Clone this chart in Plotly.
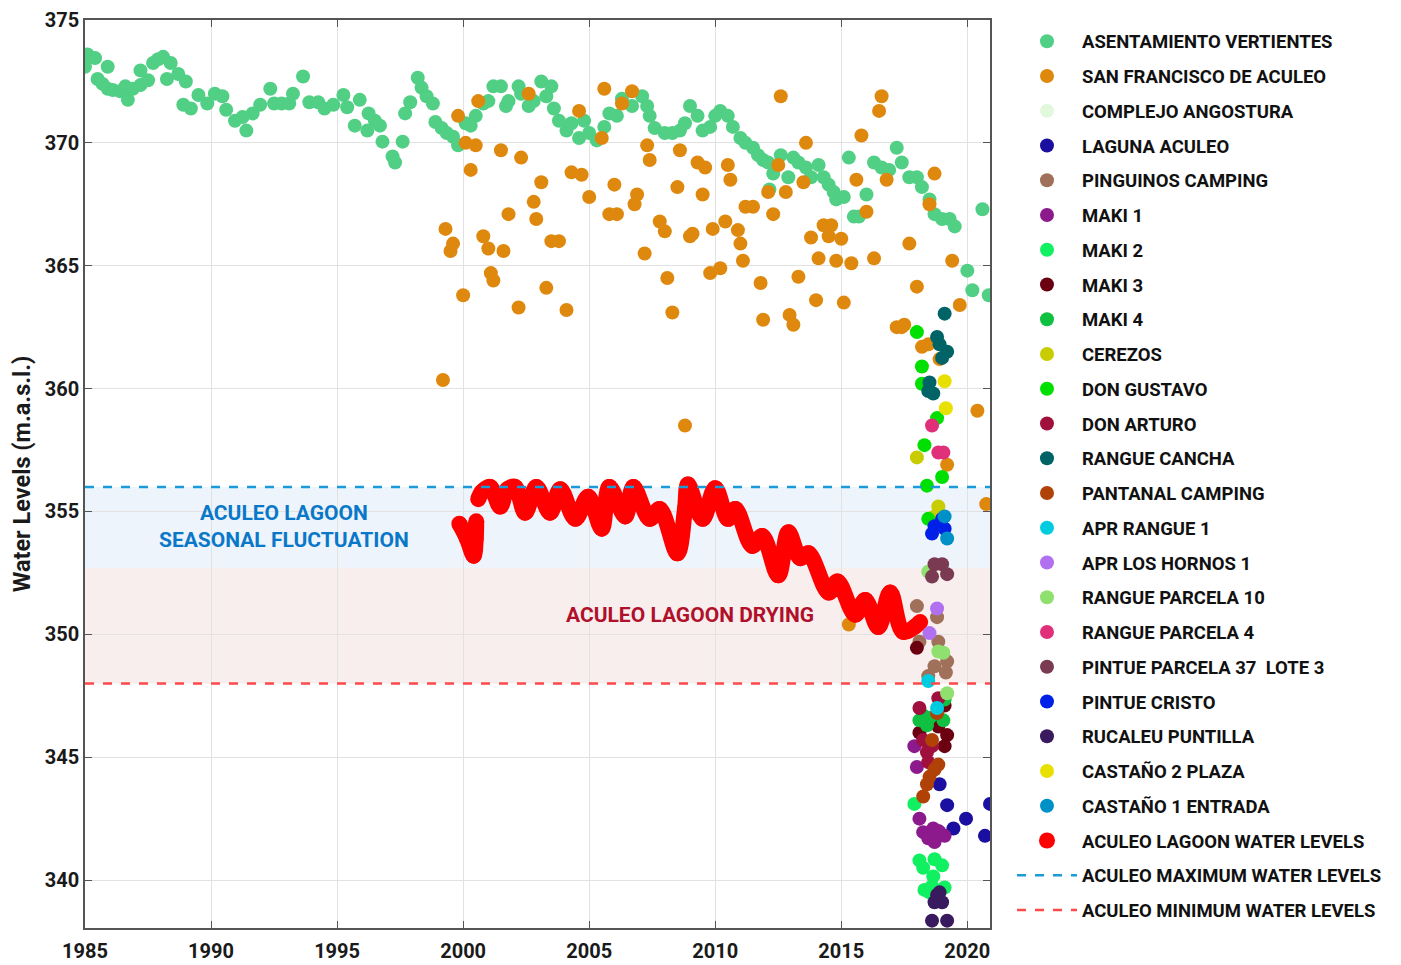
import plotly.graph_objects as go

FONT = "Roboto, Liberation Sans, sans-serif"

# ---------------- data ----------------
av_year = [1985.0, 1985.1, 1985.4, 1985.9, 1985.5, 1985.7, 1985.9, 1986.1, 1986.4, 1986.6, 1986.7, 1986.9,
           1987.2, 1987.2, 1987.5, 1987.7, 1987.9, 1988.1, 1988.4, 1988.25, 1988.7, 1989.0, 1988.9, 1989.2,
           1989.5, 1989.85, 1990.15, 1990.45, 1990.6, 1990.95, 1991.25, 1991.4, 1991.65, 1991.95, 1992.35,
           1992.5, 1992.8, 1993.1, 1993.25, 1993.65, 1993.9, 1994.25, 1994.5, 1994.85, 1995.25, 1995.4,
           1995.7, 1995.9, 1996.2, 1996.25, 1996.5, 1996.7, 1996.8, 1997.2, 1997.3, 1997.6, 1997.7, 1997.9,
           1998.2, 1998.35, 1998.55, 1998.8, 1998.9, 1999.15, 1999.35, 1999.6, 1999.8,
           2000.1, 2000.3, 2000.5, 2000.8, 2001.0, 2001.2, 2001.5, 2001.7, 2001.8, 2002.2, 2002.3, 2002.6,
           2002.8, 2003.1, 2003.3, 2003.5, 2003.6, 2003.8, 2004.1, 2004.3, 2004.6, 2004.8, 2005.0, 2005.3,
           2005.6, 2005.8, 2006.1, 2006.3, 2006.7, 2007.1, 2007.3, 2007.4, 2007.6, 2008.0, 2008.3, 2008.6,
           2008.8, 2009.0, 2009.3, 2009.5, 2009.8, 2010.0, 2010.2, 2010.5, 2010.7, 2011.0, 2011.2, 2011.5,
           2011.7, 2011.9, 2012.1, 2012.3, 2012.15, 2012.6, 2012.9, 2013.1, 2013.3, 2013.6, 2013.8, 2014.1,
           2014.3, 2014.5, 2014.7, 2014.8, 2015.1, 2015.3, 2015.5, 2015.7, 2016.0, 2016.3, 2016.6, 2016.9,
           2017.2, 2017.4, 2017.7, 2018.0, 2018.2, 2018.5, 2018.7, 2019.0, 2019.3, 2019.5, 2020.0, 2020.2,
           2020.6, 2020.85]
av_level = [373.1, 373.6, 373.45, 373.1, 372.6, 372.4, 372.2, 372.15, 372.1, 372.3, 371.75, 372.2,
            372.95, 372.35, 372.55, 373.25, 373.4, 373.5, 373.25, 372.6, 372.8, 372.5, 371.55, 371.4,
            371.95, 371.6, 372.0, 371.9, 371.35, 370.9, 371.05, 370.5, 371.2, 371.55, 372.2,
            371.6, 371.6, 371.6, 372.0, 372.7, 371.65, 371.65, 371.4, 371.55, 371.95, 371.45,
            370.7, 371.75, 370.5, 371.2, 370.9, 370.7, 370.05, 369.45, 369.2, 370.05, 371.2, 371.65,
            372.65, 372.25, 371.9, 371.6, 370.85, 370.6, 370.4, 370.25, 369.9,
            370.8, 370.7, 371.1, 371.6, 371.7, 372.3, 372.3, 371.5, 371.7, 372.3, 372.0, 371.5,
            371.7, 372.5, 371.9, 372.3, 371.4, 370.9, 370.5, 370.8, 370.2, 370.9, 370.4, 370.1,
            370.65, 371.2, 371.1, 371.8, 371.5, 371.9, 371.5, 371.1, 370.6, 370.4, 370.4, 370.5,
            370.8, 371.5, 371.1, 370.5, 370.65, 371.1, 371.3, 371.1, 370.65, 370.2, 370.0, 369.8,
            369.5, 369.3, 369.2, 368.75, 368.1, 369.5, 368.6, 369.4, 369.2, 369.0, 368.6, 369.1,
            368.6, 368.3, 368.0, 367.7, 367.8, 369.4, 367.0, 367.0, 367.9, 369.2, 369.0, 368.9,
            369.8, 369.2, 368.6, 368.6, 368.2, 367.7, 367.1, 366.9, 366.9, 366.6, 364.8, 364.0,
            367.3, 363.8]

sf_year = [1999.8, 2000.6, 2000.1, 2000.5, 2000.3, 2001.5, 2002.3, 2002.6, 2004.6, 2005.5, 2005.6, 2006.3,
           2006.7, 2007.3, 2007.4, 2008.6, 2009.3, 2009.6, 2010.5, 2010.6, 2012.6, 2012.5, 2013.6, 2013.5,
           2015.8, 2015.6, 2016.6, 2016.5, 2016.8, 2018.7, 2018.5, 2016.0, 2012.1, 2012.8, 2012.3, 2011.2,
           2011.5, 1999.3, 1999.6, 1999.5, 2000.0, 2000.8, 2001.0, 2001.6, 2001.8, 2001.1, 2001.2, 2002.2,
           2002.8, 2002.9, 2003.1, 2003.3, 2003.5, 2003.8, 2004.1, 2004.3, 2004.7, 2005.0, 2005.8, 2006.1,
           2006.0, 2006.8, 2006.9, 2007.2, 2007.8, 2008.0, 2008.1, 2008.3, 2008.5, 2009.0, 2009.1, 2009.5,
           2009.8, 2010.2, 2009.9, 2010.4, 2010.9, 2011.0, 2011.1, 2011.8, 2013.3, 2013.8, 2014.0, 2014.1,
           2014.3, 2014.5, 2014.6, 2014.8, 2015.0, 2015.1, 2015.4, 2016.3, 2017.7, 2018.0, 2019.4, 2019.7,
           2011.9, 2012.95, 2013.1, 2017.2, 2017.4, 2017.5, 2018.2, 2018.45, 2018.9, 2020.4, 2020.75,
           1999.2, 2008.8, 2019.2, 2015.3]
sf_level = [371.1, 371.7, 370.0, 369.9, 368.9, 369.7, 369.4, 372.0, 371.3, 370.2, 372.2, 371.6,
            372.1, 369.9, 369.3, 369.7, 369.2, 369.0, 369.1, 368.5, 371.9, 369.1, 370.0, 368.4,
            370.3, 368.5, 371.9, 371.3, 368.5, 368.75, 367.5, 367.2, 368.0, 368.0, 367.1, 367.4,
            367.4, 366.5, 365.9, 365.6, 363.8, 366.2, 365.7, 365.6, 367.1, 364.7, 364.4, 363.3,
            367.6, 366.9, 368.4, 364.1, 366.0, 366.0, 363.2, 368.8, 368.7, 367.8, 367.1, 367.1,
            368.3, 367.5, 367.9, 365.5, 366.8, 366.4, 364.5, 363.1, 368.2, 366.2, 366.3, 367.9,
            364.7, 364.9, 366.5, 366.8, 366.45, 365.9, 365.2, 364.3, 364.55, 366.15, 363.6, 365.3,
            366.65, 366.2, 366.65, 365.2, 366.1, 363.5, 365.1, 365.3, 365.9, 364.15, 365.2, 363.4,
            362.8, 363.0, 362.6, 362.5, 362.5, 362.6, 361.7, 361.8, 361.2, 359.1, 355.3,
            360.35, 358.5, 356.9, 350.4]

lagoon_year = [1999.85, 2000.15, 2000.42, 2000.5, 2000.52, None,
               2000.6, 2000.75, 2001.07, 2001.47, 2001.75, 2002.06, 2002.46, 2002.9, 2003.45, 2003.85,
               2004.45, 2004.96, 2005.5, 2005.8, 2006.43, 2006.75, 2007.4, 2007.8, 2008.5, 2008.8,
               2008.92, 2009.5, 2010.0, 2010.5, 2010.8, 2011.47, 2011.87, 2012.5, 2012.9, 2013.37,
               2013.7, 2014.5, 2014.85, 2015.55, 2015.95, 2016.47, 2016.94, 2017.46, 2018.13]
lagoon_level = [354.5, 353.9, 353.2, 353.9, 354.6, None,
                355.5, 355.8, 356.0, 355.2, 355.9, 356.0, 354.95, 356.0, 354.95, 355.9,
                354.7, 355.6, 354.3, 356.0, 354.8, 356.0, 354.7, 355.1, 353.3, 355.1,
                356.1, 354.7, 355.95, 354.7, 355.1, 353.6, 354.0, 352.4, 354.15, 353.1,
                353.3, 351.7, 352.15, 350.8, 351.4, 350.3, 351.7, 350.1, 350.5]

max_level = 356.0
min_level = 348.0
fluct_low = 352.7
x_span = [1985.0, 2020.9]

# monitoring wells (year, level)
wells = {
    "COMPLEJO ANGOSTURA": ([2018.4, 2018.6], [346.4, 345.6]),
    "LAGUNA ACULEO": ([2018.9, 2019.2, 2019.45, 2019.95, 2020.7, 2020.9],
                      [343.9, 343.05, 342.1, 342.5, 341.8, 343.1]),
    "PINGUINOS CAMPING": ([2018.0, 2018.8, 2018.1, 2018.85, 2019.2, 2018.7, 2018.45, 2019.15],
                          [351.15, 350.7, 349.7, 349.7, 348.9, 348.7, 348.3, 348.45]),
    "MAKI 1": ([2017.9, 2018.0, 2018.1, 2018.25, 2018.45, 2018.7, 2018.9, 2019.1, 2018.65, 2018.85],
               [345.45, 344.6, 342.5, 341.95, 341.7, 341.55, 341.95, 341.8, 342.1, 342.0]),
    "MAKI 2": ([2017.9, 2018.1, 2018.25, 2018.7, 2019.0, 2018.65, 2018.3, 2019.1, 2018.5, 2018.6],
               [343.1, 340.8, 340.5, 340.85, 340.6, 340.15, 339.6, 339.7, 339.5, 339.75]),
    "MAKI 3": ([2018.0, 2019.2, 2019.1, 2018.1, 2018.85, 2019.1],
               [349.45, 345.9, 345.45, 346.0, 346.25, 347.1]),
    "MAKI 4": ([2018.1, 2018.4, 2018.5, 2019.05, 2018.25, 2019.1],
               [346.5, 346.3, 346.6, 346.5, 346.7, 347.35]),
    "CEREZOS": ([2018.0, 2018.85, 2018.7], [357.2, 355.2, 354.8]),
    "DON GUSTAVO": ([2018.0, 2018.2, 2018.2, 2018.8, 2018.3, 2019.0, 2018.4, 2018.45],
                    [362.3, 360.9, 360.2, 358.8, 357.7, 356.4, 356.05, 354.7]),
    "DON ARTURO": ([2018.1, 2018.85, 2018.25, 2018.4, 2018.45, 2018.6],
                   [347.0, 347.4, 345.7, 345.2, 344.8, 345.45]),
    "RANGUE CANCHA": ([2019.1, 2018.8, 2018.9, 2019.2, 2019.0, 2018.5, 2018.45, 2018.65],
                      [363.05, 362.1, 361.8, 361.5, 361.25, 360.25, 359.9, 359.8]),
    "PANTANAL CAMPING": ([2018.6, 2018.85, 2018.7, 2018.5, 2018.4, 2018.25, 2018.8],
                         [345.7, 344.7, 344.5, 344.2, 343.9, 343.4, 346.8]),
    "APR RANGUE 1": ([2018.45, 2018.8], [348.1, 347.0]),
    "APR LOS HORNOS 1": ([2018.8, 2018.5], [351.05, 350.05]),
    "RANGUE PARCELA 10": ([2018.45, 2018.85, 2019.05, 2019.2], [352.55, 349.3, 349.25, 347.6]),
    "RANGUE PARCELA 4": ([2018.6, 2018.85, 2019.05], [358.5, 357.4, 357.4]),
    "PINTUE PARCELA 37  LOTE 3": ([2018.7, 2019.0, 2018.6, 2019.2], [352.85, 352.85, 352.35, 352.45]),
    "PINTUE CRISTO": ([2019.0, 2018.7, 2018.6, 2019.1], [354.7, 354.4, 354.1, 354.3]),
    "RUCALEU PUNTILLA": ([2018.8, 2019.0, 2018.7, 2018.6, 2019.2, 2018.9],
                         [339.4, 339.1, 339.1, 338.35, 338.35, 339.5]),
    "CASTAÑO 2 PLAZA": ([2019.1, 2019.15], [360.3, 359.2]),
    "CASTAÑO 1 ENTRADA": ([2019.1, 2019.2], [354.8, 353.9]),
}

legend_order = ["ASENTAMIENTO VERTIENTES", "SAN FRANCISCO DE ACULEO", "COMPLEJO ANGOSTURA", "LAGUNA ACULEO",
                "PINGUINOS CAMPING", "MAKI 1", "MAKI 2", "MAKI 3", "MAKI 4", "CEREZOS", "DON GUSTAVO",
                "DON ARTURO", "RANGUE CANCHA", "PANTANAL CAMPING", "APR RANGUE 1", "APR LOS HORNOS 1",
                "RANGUE PARCELA 10", "RANGUE PARCELA 4", "PINTUE PARCELA 37  LOTE 3", "PINTUE CRISTO",
                "RUCALEU PUNTILLA", "CASTAÑO 2 PLAZA", "CASTAÑO 1 ENTRADA", "ACULEO LAGOON WATER LEVELS",
                "ACULEO MAXIMUM WATER LEVELS", "ACULEO MINIMUM WATER LEVELS"]

colors = {
    "ASENTAMIENTO VERTIENTES": "#50cf85", "SAN FRANCISCO DE ACULEO": "#df880e",
    "COMPLEJO ANGOSTURA": "#e2f8dc", "LAGUNA ACULEO": "#1a0fa0", "PINGUINOS CAMPING": "#a0705a",
    "MAKI 1": "#8c1a8c", "MAKI 2": "#10f060", "MAKI 3": "#6a0010", "MAKI 4": "#10c040",
    "CEREZOS": "#c8cc00", "DON GUSTAVO": "#00e000", "DON ARTURO": "#a0103c", "RANGUE CANCHA": "#006466",
    "PANTANAL CAMPING": "#b04208", "APR RANGUE 1": "#00cce0", "APR LOS HORNOS 1": "#b070f0",
    "RANGUE PARCELA 10": "#90e070", "RANGUE PARCELA 4": "#e0307a", "PINTUE PARCELA 37  LOTE 3": "#7a3a52",
    "PINTUE CRISTO": "#0020e8", "RUCALEU PUNTILLA": "#3a1a5e", "CASTAÑO 2 PLAZA": "#e8e000",
    "CASTAÑO 1 ENTRADA": "#0090c8", "ACULEO LAGOON WATER LEVELS": "#ff0000",
    "ACULEO MAXIMUM WATER LEVELS": "#1a9ad8", "ACULEO MINIMUM WATER LEVELS": "#ff4848",
}

MS = 14
rank = {n: (i + 1) * 10 for i, n in enumerate(legend_order)}

fig = go.Figure()

def add_points(name, xs, ys, size=MS):
    fig.add_trace(go.Scatter(x=xs, y=ys, mode="markers", name=name, legendgroup=name,
                             legendrank=rank[name],
                             marker=dict(size=size, color=colors[name], line=dict(width=0))))

add_points("ASENTAMIENTO VERTIENTES", av_year, av_level)
add_points("SAN FRANCISCO DE ACULEO", sf_year, sf_level)
add_points("COMPLEJO ANGOSTURA", *wells["COMPLEJO ANGOSTURA"])

# lagoon thick line
lname = "ACULEO LAGOON WATER LEVELS"
fig.add_trace(go.Scatter(x=lagoon_year, y=lagoon_level, mode="lines", showlegend=False,
                         legendgroup=lname, line=dict(color=colors[lname], width=16, shape="spline",
                                                      smoothing=1.0), hoverinfo="skip"))
add_points(lname, lagoon_year, lagoon_level, size=16)

for n in legend_order[3:23]:
    if n == "COMPLEJO ANGOSTURA":
        continue
    add_points(n, *wells[n])

for n, lvl in [("ACULEO MAXIMUM WATER LEVELS", max_level), ("ACULEO MINIMUM WATER LEVELS", min_level)]:
    fig.add_trace(go.Scatter(x=x_span, y=[lvl, lvl], mode="lines", name=n, legendgroup=n,
                             legendrank=rank[n],
                             line=dict(color=colors[n], width=2.5, dash="dash")))

# bands
fig.add_shape(type="rect", xref="paper", x0=0, x1=1, yref="y", y0=fluct_low, y1=max_level,
              fillcolor="#eef4fb", line=dict(width=0), layer="below")
fig.add_shape(type="rect", xref="paper", x0=0, x1=1, yref="y", y0=min_level, y1=fluct_low,
              fillcolor="#f8eeee", line=dict(width=0), layer="below")

fig.add_annotation(x=1992.9, y=354.4, text="ACULEO LAGOON<br>SEASONAL FLUCTUATION", showarrow=False,
                   font=dict(family=FONT, size=21, color="#0a78c8", weight="bold"))
fig.add_annotation(x=2009.0, y=350.8, text="ACULEO LAGOON DRYING", showarrow=False,
                   font=dict(family=FONT, size=21, color="#b0102a", weight="bold"))

axis_common = dict(showgrid=True, gridcolor="#e2e2e2", gridwidth=1, showline=True, linecolor="#555",
                   linewidth=1.5, mirror="ticks", ticks="inside", ticklen=7, tickcolor="#555",
                   zeroline=False,
                   tickfont=dict(family=FONT, size=20, color="#1a1a1a", weight="bold"))

fig.update_xaxes(range=x_span, tickvals=[1985, 1990, 1995, 2000, 2005, 2010, 2015, 2020],
                 ticklabelstandoff=4, **axis_common)
fig.update_yaxes(range=[338.05, 375], tickvals=[340, 345, 350, 355, 360, 365, 370, 375],
                 title=dict(text="Water Levels (m.a.s.l.)", standoff=8,
                            font=dict(family=FONT, size=23.5, color="#1a1a1a", weight="bold")),
                 **axis_common)

# the page body adds an 8px offset; margins compensate so the plot area matches the reference
fig.update_layout(
    width=1401, height=965,
    margin=dict(l=77, r=419, t=12, b=45, autoexpand=False),
    paper_bgcolor="white", plot_bgcolor="white",
    legend=dict(x=1.0243, y=0.997, xanchor="left", yanchor="top", traceorder="grouped",
                tracegroupgap=7.7, itemwidth=60, bgcolor="rgba(0,0,0,0)",
                font=dict(family=FONT, size=18.5, color="#111", weight="bold")),
)

fig.write_html("out.html")
